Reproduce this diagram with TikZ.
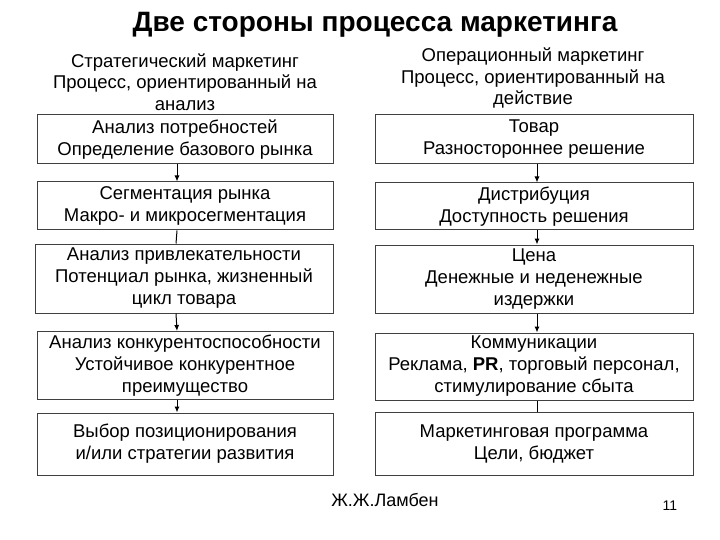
\documentclass[tikz,border=0pt]{standalone}
\usepackage{fontspec}
\usetikzlibrary{arrows.meta}
\setmainfont{Liberation Sans}
\begin{document}
\begin{tikzpicture}[x=1pt,y=-1pt,
  box/.style={draw=black!75,line width=1pt,minimum width=#1,align=center,font=\fontsize{18.5}{22}\selectfont,inner sep=0pt},
  hdr/.style={align=center,font=\fontsize{18.5}{21.5}\selectfont},
  arr/.style={-{Latex[length=6pt,width=5pt]},line width=1pt},
  ln/.style={line width=1pt}]
\useasboundingbox (0,0) rectangle (720,540);
\node[font=\bfseries\fontsize{28}{32}\selectfont] (title) at (375,25) {Две стороны процесса маркетинга};
\node[hdr] (lh) at (185,82) {Стратегический маркетинг\\Процесс, ориентированный на\\анализ};
\node[hdr] (rh) at (533,78) {Операционный маркетинг\\Процесс, ориентированный на\\действие};
% left column
\node[box=296pt,minimum height=49pt] (l1) at (185,139.5) {Анализ потребностей\\Определение базового рынка};
\node[box=296pt,minimum height=48pt] (l2) at (185,206) {Сегментация рынка\\Макро- и микросегментация};
\node[box=298pt,minimum height=69pt] (l3) at (184,278.5) {Анализ привлекательности\\Потенциал рынка, жизненный\\цикл товара};
\node[box=296pt,minimum height=68pt] (l4) at (185,365.5) {Анализ конкурентоспособности\\Устойчивое конкурентное\\преимущество};
\node[box=296pt,minimum height=62pt] (l5) at (185,444) {Выбор позиционирования\\и/или стратегии развития};
% right column
\node[box=318pt,minimum height=49pt] (r1) at (534,139.5) {Товар\\Разностороннее решение};
\node[box=318pt,minimum height=47pt] (r2) at (534,206.5) {Дистрибуция\\Доступность решения};
\node[box=318pt,minimum height=68pt] (r3) at (534,279) {Цена\\Денежные и неденежные\\издержки};
\node[box=318pt,minimum height=67pt] (r4) at (534,366.5) {Коммуникации\\Реклама, \textbf{PR}, торговый персонал,\\стимулирование сбыта};
\node[box=318pt,minimum height=63pt] (r5) at (534,443.5) {Маркетинговая программа\\Цели, бюджет};
\draw[arr] ([xshift=-8pt]l1.south) -- ([xshift=-8pt]l2.north);
\draw[ln] ([xshift=-8pt]l2.south) -- ([xshift=-8pt]l3.north);
\draw[arr] ([xshift=-8pt]l3.south) -- ([xshift=-8pt]l4.north);
\draw[arr] ([xshift=-8pt]l4.south) -- ([xshift=-8pt]l5.north);
\draw[arr] ([xshift=3pt]r1.south) -- ([xshift=3pt]r2.north);
\draw[arr] ([xshift=3pt]r2.south) -- ([xshift=3pt]r3.north);
\draw[arr] ([xshift=3pt]r3.south) -- ([xshift=3pt]r4.north);
\draw[ln] ([xshift=3pt]r4.south) -- ([xshift=3pt]r5.north);
\node[font=\fontsize{18}{20}\selectfont] (auth) at (385,500) {Ж.Ж.Ламбен};
\node[font=\fontsize{14}{16}\selectfont] (pg) at (670,506) {11};
\end{tikzpicture}
\end{document}
